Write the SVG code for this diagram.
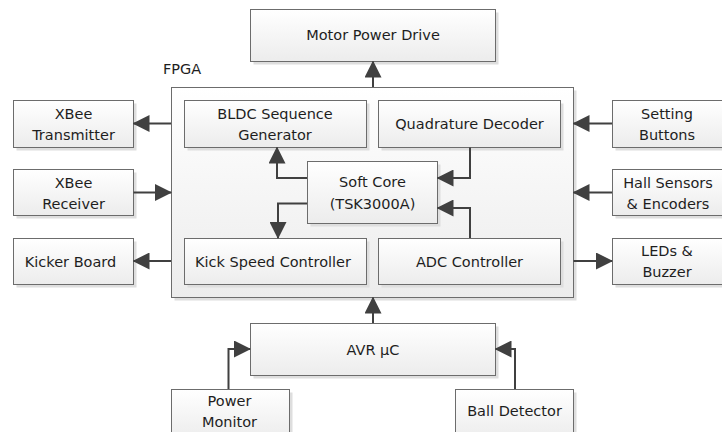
<svg xmlns="http://www.w3.org/2000/svg" width="722" height="432" viewBox="0 0 722 432">
<style>
.box{fill:url(#g);stroke:#6c6c6c;stroke-width:1}
.sh{fill:#dedede}
.t{font-family:"DejaVu Sans","Liberation Sans",sans-serif;font-size:14.5px;fill:#1e1e1e;text-anchor:middle}
.c{fill:none;stroke:#404040;stroke-width:2;marker-end:url(#a)}
</style>
<defs>
<linearGradient id="g" x1="0" y1="0" x2="0" y2="1">
<stop offset="0" stop-color="#ffffff"/>
<stop offset="1" stop-color="#ececec"/>
</linearGradient>
<marker id="a" markerUnits="userSpaceOnUse" markerWidth="17" markerHeight="17" refX="16" refY="8.5" orient="auto">
<path d="M0,0 L17,8.5 L0,17 z" fill="#404040"/>
</marker>
</defs>
<rect width="722" height="432" fill="#ffffff"/>

<g id="fpga">
<rect class="sh" x="174.5" y="90.5" width="402" height="210"/>
<rect class="box" x="171.5" y="87.5" width="402" height="210"/>
<text class="t" x="163" y="74" style="text-anchor:start">FPGA</text>
</g>
<g id="motor">
<rect class="sh" x="253.5" y="12.5" width="245" height="52"/>
<rect class="box" x="250.5" y="9.5" width="245" height="52"/>
<text class="t" x="373" y="40">Motor Power Drive</text>
</g>
<g id="bldc">
<rect class="sh" x="187.5" y="103.5" width="182" height="47"/>
<rect class="box" x="184.5" y="100.5" width="182" height="47"/>
<text class="t" x="275" y="119">BLDC Sequence</text>
<text class="t" x="275" y="140">Generator</text>
</g>
<g id="quad">
<rect class="sh" x="381.5" y="103.5" width="182" height="47"/>
<rect class="box" x="378.5" y="100.5" width="182" height="47"/>
<text class="t" x="469.5" y="129">Quadrature Decoder</text>
</g>
<g id="softcore">
<rect class="sh" x="310.5" y="164.5" width="130" height="62"/>
<rect class="box" x="307.5" y="161.5" width="130" height="62"/>
<text class="t" x="372.5" y="187">Soft Core</text>
<text class="t" x="372.5" y="208.5">(TSK3000A)</text>
</g>
<g id="kick">
<rect class="sh" x="187.5" y="241.5" width="182" height="46"/>
<rect class="box" x="184.5" y="238.5" width="182" height="46"/>
<text class="t" x="273" y="266.5">Kick Speed Controller</text>
</g>
<g id="adc">
<rect class="sh" x="381.5" y="241.5" width="182" height="46"/>
<rect class="box" x="378.5" y="238.5" width="182" height="46"/>
<text class="t" x="469.5" y="266.5">ADC Controller</text>
</g>
<g id="xbeetx">
<rect class="sh" x="16.5" y="103.5" width="120" height="47"/>
<rect class="box" x="13.5" y="100.5" width="120" height="47"/>
<text class="t" x="73.5" y="118.5">XBee</text>
<text class="t" x="73.5" y="139.5">Transmitter</text>
</g>
<g id="xbeerx">
<rect class="sh" x="16.5" y="172.5" width="120" height="46"/>
<rect class="box" x="13.5" y="169.5" width="120" height="46"/>
<text class="t" x="73.5" y="187.5">XBee</text>
<text class="t" x="73.5" y="208.5">Receiver</text>
</g>
<g id="kicker">
<rect class="sh" x="16.5" y="241.5" width="120" height="46"/>
<rect class="box" x="13.5" y="238.5" width="120" height="46"/>
<text class="t" x="70.5" y="266.5">Kicker Board</text>
</g>
<g id="setting">
<rect class="sh" x="615.5" y="103.5" width="120" height="47"/>
<rect class="box" x="612.5" y="100.5" width="120" height="47"/>
<text class="t" x="667" y="118.5">Setting</text>
<text class="t" x="667" y="139.5">Buttons</text>
</g>
<g id="hall">
<rect class="sh" x="615.5" y="172.5" width="120" height="46"/>
<rect class="box" x="612.5" y="169.5" width="120" height="46"/>
<text class="t" x="668" y="187.5">Hall Sensors</text>
<text class="t" x="668" y="208.5">&amp; Encoders</text>
</g>
<g id="leds">
<rect class="sh" x="615.5" y="241.5" width="120" height="46"/>
<rect class="box" x="612.5" y="238.5" width="120" height="46"/>
<text class="t" x="667" y="256">LEDs &amp;</text>
<text class="t" x="667" y="277">Buzzer</text>
</g>
<g id="avr">
<rect class="sh" x="253.5" y="326.5" width="245" height="52"/>
<rect class="box" x="250.5" y="323.5" width="245" height="52"/>
<text class="t" x="373" y="354.5">AVR μC</text>
</g>
<g id="power">
<rect class="sh" x="174.5" y="392.5" width="118" height="50"/>
<rect class="box" x="171.5" y="389.5" width="118" height="50"/>
<text class="t" x="229.5" y="406">Power</text>
<text class="t" x="229.5" y="427">Monitor</text>
</g>
<g id="ball">
<rect class="sh" x="458.5" y="392.5" width="118" height="50"/>
<rect class="box" x="455.5" y="389.5" width="118" height="50"/>
<text class="t" x="514.5" y="416">Ball Detector</text>
</g>

<g id="connectors">
<path class="c" d="M373 87 V61.5"/>
<path class="c" d="M171 123.5 H133.5"/>
<path class="c" d="M133.5 192.5 H171"/>
<path class="c" d="M171 261 H133.5"/>
<path class="c" d="M612 123.5 H573.5"/>
<path class="c" d="M612 192.5 H573.5"/>
<path class="c" d="M573.5 261 H612"/>
<path class="c" d="M373 323 V297.5"/>
<path class="c" d="M307 178 H277 V147.5"/>
<path class="c" d="M307 203.5 H278 V238"/>
<path class="c" d="M470 147.5 V178 H437.5"/>
<path class="c" d="M470 238 V208 H437.5"/>
<path class="c" d="M228.5 389 V349 H250"/>
<path class="c" d="M515 389 V349 H495.5"/>
</g>
</svg>
